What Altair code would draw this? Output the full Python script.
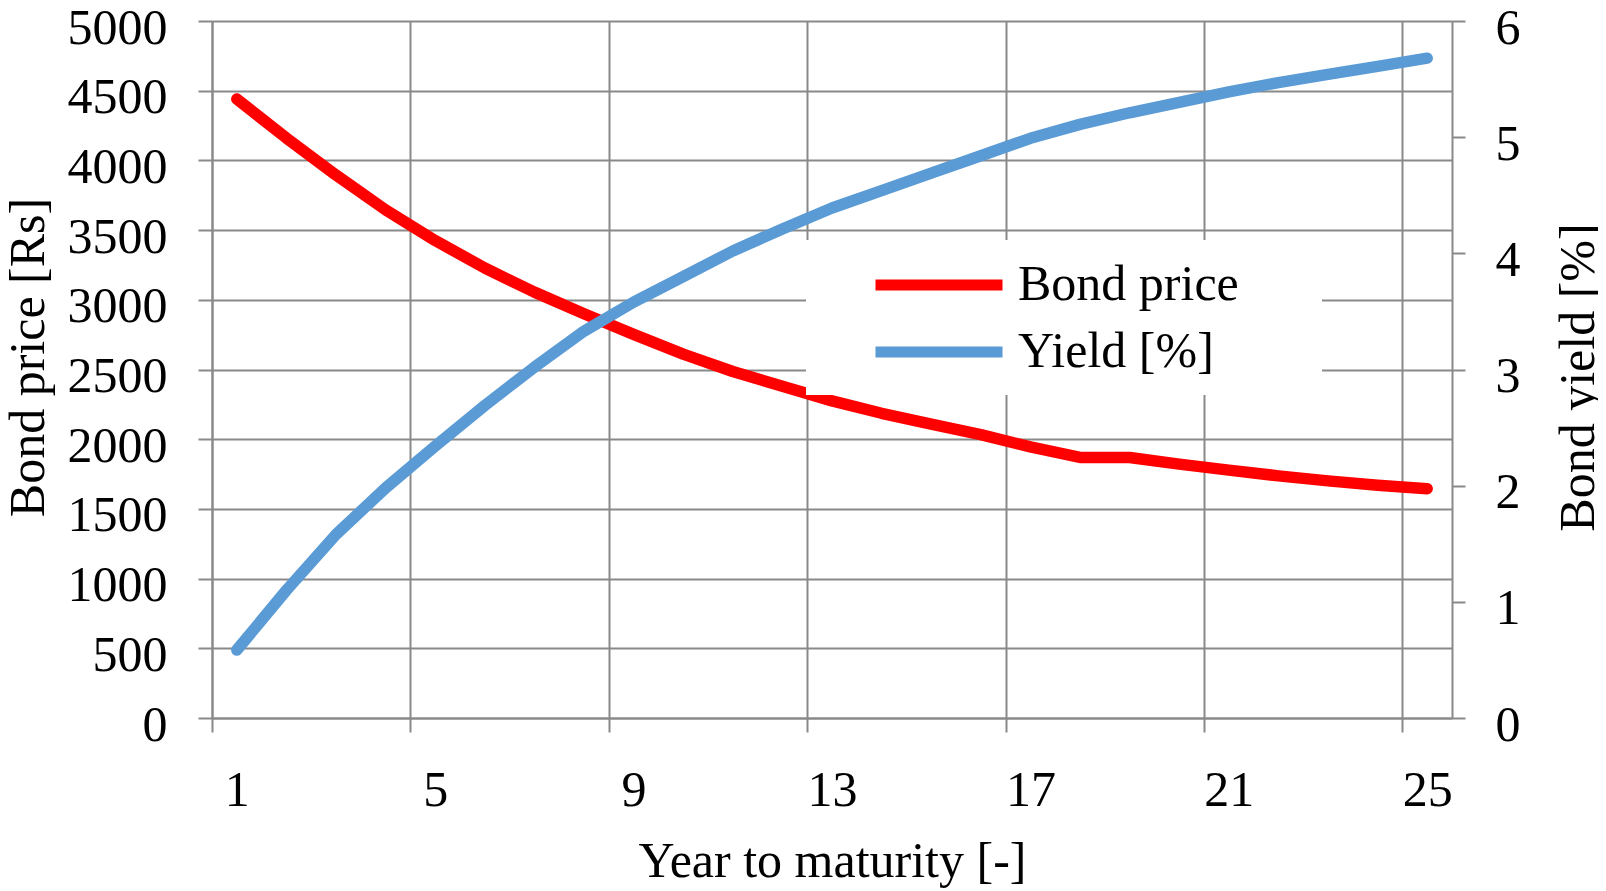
import altair as alt
import pandas as pd

years = list(range(1, 26))
bond_price = [4440, 4160, 3895, 3645, 3425, 3228, 3055, 2900, 2752, 2610,
              2486, 2380, 2275, 2186, 2108, 2033, 1945, 1869, 1869, 1821,
              1778, 1737, 1701, 1670, 1645]
bond_yield = [0.585, 1.10, 1.58, 1.98, 2.34, 2.69, 3.02, 3.33, 3.58, 3.80,
              4.02, 4.21, 4.39, 4.54, 4.69, 4.84, 4.99, 5.11, 5.21, 5.30,
              5.39, 5.47, 5.54, 5.61, 5.68]
series_names = ["Bond price", "Yield [%]"]
series_colors = ["#FF0000", "#5B9BD5"]
x_boundaries = [0.5, 4.5, 8.5, 12.5, 16.5, 20.5, 24.5]
price_ticks = [0, 500, 1000, 1500, 2000, 2500, 3000, 3500, 4000, 4500, 5000]
yield_ticks = [0, 1, 2, 3, 4, 5, 6]

df = pd.DataFrame({"year": years, "price": bond_price, "yield": bond_yield})

FONT = "Liberation Serif"
GRAY = "#898989"
FS = 50
LW = 11.5

color_scale = alt.Scale(domain=series_names, range=series_colors)

x_enc = alt.X(
    "year:Q",
    scale=alt.Scale(domain=[0.5, 25.5], nice=False, zero=False),
    axis=alt.Axis(
        values=x_boundaries, title="Year to maturity [-]",
        grid=True, gridColor=GRAY, gridWidth=2,
        ticks=True, tickSize=14, tickColor=GRAY, tickWidth=2,
        domainColor=GRAY, domainWidth=2,
        labelExpr="format(datum.value + 0.5, 'd')", labelOffset=24.8,
        labelFlush=False, labelAlign="center",
        labelPadding=73, labelBaseline="alphabetic", labelFont=FONT,
        labelFontSize=FS, labelColor="black", labelOverlap=False,
        titleFont=FONT, titleFontSize=FS, titleFontWeight="normal", titleColor="black",
        titleX=620, titleY=158, titleBaseline="alphabetic", titleAlign="center",
    ),
)

# legend line symbol: a horizontal stroke, 6 units long in symbol space
legend = alt.Legend(
    orient="none", legendX=594, legendY=219,
    title="\u00a0", titleOrient="right", titlePadding=65, titleFontSize=1,
    symbolType="M-3,0H3", symbolSize=1792, symbolStrokeWidth=11,
    symbolOffset=88, labelOffset=52,
    labelFont=FONT, labelFontSize=FS, labelColor="black",
    labelLimit=0, fillColor="white", padding=18, rowPadding=15,
)

price_line = alt.Chart(df).transform_calculate(
    series="'" + series_names[0] + "'"
).mark_line(strokeWidth=LW, strokeCap="round", strokeJoin="round").encode(
    x=x_enc,
    y=alt.Y(
        "price:Q",
        scale=alt.Scale(domain=[0, 5000], nice=False, zero=True),
        axis=alt.Axis(
            values=price_ticks, title="Bond price [Rs]", format="d",
            grid=True, gridColor=GRAY, gridWidth=2,
            tickSize=14, tickColor=GRAY, tickWidth=2,
            domainColor=GRAY, domainWidth=2,
            labelPadding=31, labelOffset=7, labelFont=FONT, labelFontSize=FS,
            labelColor="black", labelOverlap=False,
            titleFont=FONT, titleFontSize=FS, titleFontWeight="normal", titleColor="black",
            titleAngle=270, titleX=-169, titleY=336, titleBaseline="alphabetic",
            titleAlign="center",
        ),
    ),
    color=alt.Color("series:N", scale=color_scale, legend=legend),
)

yield_line = alt.Chart(df).transform_calculate(
    series="'" + series_names[1] + "'"
).mark_line(strokeWidth=LW, strokeCap="round", strokeJoin="round").encode(
    x=x_enc,
    y=alt.Y(
        "yield:Q",
        scale=alt.Scale(domain=[0, 6], nice=False, zero=True),
        axis=alt.Axis(
            orient="right", values=yield_ticks, title="Bond yield [%]", format="d",
            grid=False, tickSize=13, tickColor=GRAY, tickWidth=2,
            domainColor=GRAY, domainWidth=2,
            labelPadding=30, labelOffset=7, labelFont=FONT, labelFontSize=FS,
            labelColor="black", labelOverlap=False,
            titleFont=FONT, titleFontSize=FS, titleFontWeight="normal", titleColor="black",
            titleAngle=270, titleX=141, titleY=356, titleBaseline="alphabetic",
            titleAlign="center",
        ),
    ),
    color=alt.Color("series:N", scale=color_scale, legend=legend),
)

chart = alt.layer(price_line, yield_line).resolve_scale(y="independent").properties(
    width=1240, height=697,
    padding={"left": 204, "top": 13, "right": 146, "bottom": 170},
    autosize=alt.AutoSizeParams(type="none"),
).configure_view(stroke=None).configure(background="white")

chart.save("out.html", embed_options={"renderer": "svg", "actions": False})
